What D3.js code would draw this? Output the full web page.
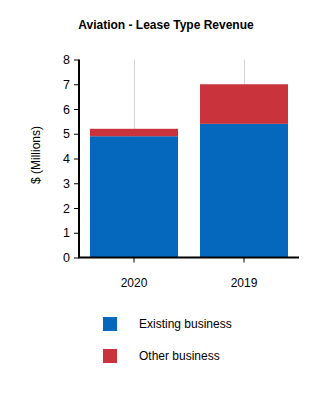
<!DOCTYPE html>
<html><head><meta charset="utf-8">
<script src="https://cdn.jsdelivr.net/npm/d3@7/dist/d3.min.js"></script>
<style>body{margin:0;background:#fff;} text{font-family:"Liberation Sans",Arial,sans-serif;}</style>
</head><body>
<script>
const categories = ["2020", "2019"];
const existingBusiness = [4.9, 5.4];
const otherBusiness = [0.3, 1.6];
const yTicks = [0,1,2,3,4,5,6,7,8];
const seriesNames = ["Existing business", "Other business"];
const colors = ["#0568bd", "#c8333c"];

const W = 333, H = 393;
const svg = d3.select("body").append("svg").attr("width", W).attr("height", H);
const x = d3.scaleBand().domain(categories).range([79, 299]).paddingInner(0.2).paddingOuter(0.1);
const y = d3.scaleLinear().domain([0, 8]).range([257.5, 59.5]);

svg.append("text").attr("x", 166).attr("y", 29).attr("text-anchor", "middle")
  .attr("font-size", 12).attr("font-weight", "bold").text("Aviation - Lease Type Revenue");

// gridlines
svg.append("g").selectAll("line").data(categories).join("line")
  .attr("x1", d => x(d) + x.bandwidth()/2 + 0.5).attr("x2", d => x(d) + x.bandwidth()/2 + 0.5)
  .attr("y1", y(8)).attr("y2", y(0)).attr("stroke", "#d4d4d4").attr("stroke-width", 1);

const data = categories.map((c, i) => ({cat: c, existing: existingBusiness[i], other: otherBusiness[i]}));
const stack = d3.stack().keys(["existing", "other"])(data);
svg.append("g").selectAll("g").data(stack).join("g").attr("fill", (d, i) => colors[i])
  .selectAll("rect").data(d => d).join("rect")
  .attr("x", d => x(d.data.cat)).attr("width", x.bandwidth())
  .attr("y", d => y(d[1])).attr("height", d => y(d[0]) - y(d[1]));

const yAxis = svg.append("g").attr("transform", "translate(79,0)")
  .call(d3.axisLeft(y).tickValues(yTicks).tickSize(5).tickPadding(4).tickFormat(d3.format("d")));
yAxis.select(".domain").attr("stroke", "#000").attr("stroke-width", 2).attr("d", `M0,${y(8)}V${y(0)}`);
yAxis.selectAll(".tick line").attr("stroke", "#000");
yAxis.selectAll("text").attr("font-size", 12.5).attr("fill", "#000").attr("font-family", "Liberation Sans, Arial, sans-serif");

const xAxis = svg.append("g").attr("transform", `translate(0,${y(0)})`)
  .call(d3.axisBottom(x).tickSize(5).tickPadding(16));
xAxis.select(".domain").attr("stroke", "#000").attr("stroke-width", 2).attr("d", `M78,0H299`);
xAxis.selectAll(".tick line").attr("stroke", "#000");
xAxis.selectAll("text").attr("font-size", 12).attr("fill", "#000").attr("font-family", "Liberation Sans, Arial, sans-serif");

svg.append("text").attr("transform", "translate(40,155) rotate(-90)").attr("text-anchor", "middle")
  .attr("font-size", 12).text("$ (Millions)");

const leg = svg.append("g").selectAll("g").data(seriesNames).join("g")
  .attr("transform", (d, i) => `translate(103,${317 + i*32})`);
leg.append("rect").attr("width", 14).attr("height", 14).attr("fill", (d, i) => colors[i]);
leg.append("text").attr("x", 36).attr("y", 11).attr("font-size", 12).text(d => d);
</script>
</body></html>
